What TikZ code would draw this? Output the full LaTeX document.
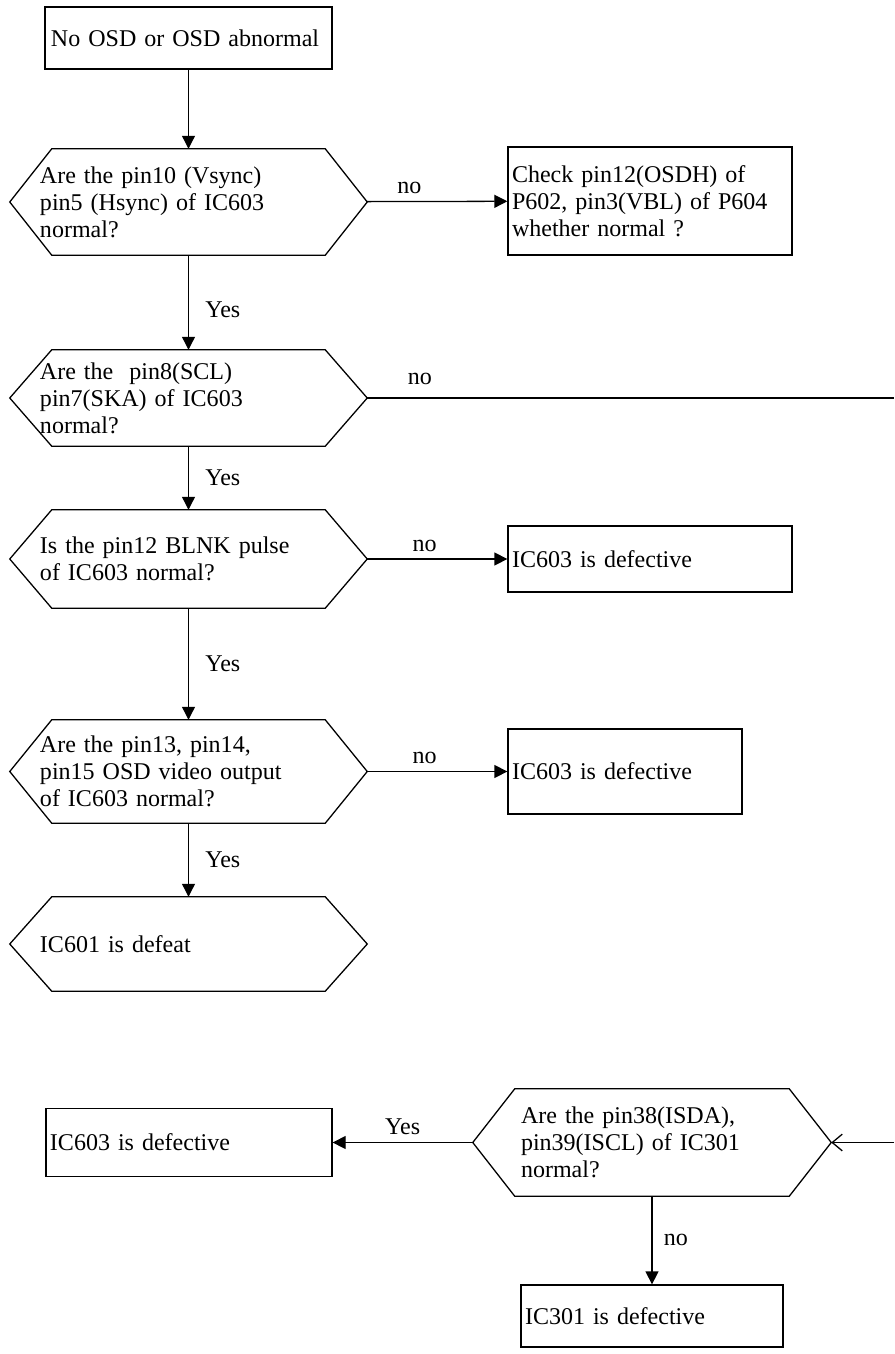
\documentclass[tikz,border=0pt]{standalone}
\usepackage{fontspec}
\setmainfont{Liberation Serif}
\usetikzlibrary{arrows.meta}

\begin{document}
\begin{tikzpicture}[
  x=0.03cm, y=-0.03cm,
  every node/.style={font=\fontsize{20.5}{23}\selectfont},
  box/.style={draw,line width=1.1pt,align=left,inner sep=0pt},
  ques/.style={align=left,inner sep=0pt,minimum width=10.71cm,text width=8.91cm},
  arr/.style={-{Triangle[length=3.9mm,width=3.9mm]},line width=1.1pt},
  lbl/.style={inner sep=1pt}
]
\useasboundingbox (0,0) rectangle (894,1354);
% main column
\node[box,minimum width=8.61cm,minimum height=1.86cm,text width=8.25cm] (start) at (188.5,38) {No OSD or OSD abnormal};
\node[ques,minimum height=3.18cm] (q1) at (188.5,202) {Are the pin10 (Vsync)\\pin5 (Hsync) of IC603\\normal?};
\node[ques,minimum height=2.88cm] (q2) at (188.5,398) {Are the~ pin8(SCL)\\pin7(SKA) of IC603\\normal?};
\node[ques,minimum height=2.94cm] (q3) at (188.5,559) {Is the pin12 BLNK pulse\\of IC603 normal?};
\node[ques,minimum height=3.09cm] (q4) at (188.5,771.5) {Are the pin13, pin14,\\pin15 OSD video output\\of IC603 normal?};
\node[ques,minimum height=2.82cm] (q5) at (188.5,944) {IC601 is defeat};
% right side results
\node[box,minimum width=8.52cm,minimum height=3.24cm,text width=8.28cm] (chk) at (650,201) {Check pin12(OSDH) of\\P602, pin3(VBL) of P604\\whether normal ?};
\node[box,minimum width=8.52cm,minimum height=1.98cm,text width=8.28cm] (def1) at (650,559) {IC603 is defective};
\node[box,minimum width=7.02cm,minimum height=2.55cm,text width=6.78cm] (def2) at (625,771.5) {IC603 is defective};
% lower part
\node[ques,minimum width=10.74cm,minimum height=3.21cm,text width=7.86cm] (q6) at (652,1142.5) {Are the pin38(ISDA),\\pin39(ISCL) of IC301\\normal?};
\node[box,minimum width=8.58cm,minimum height=2.04cm,text width=8.34cm] (def3) at (189,1142.5) {IC603 is defective};
\node[box,minimum width=7.86cm,minimum height=1.86cm,text width=7.62cm] (def4) at (652,1316) {IC301 is defective};
\coordinate (rtop) at (894,398);
\coordinate (rbot) at (894,1142.5);
% hexagon outlines
\foreach \q in {q1,q2,q3,q4,q5,q6}
  \draw[line width=1.1pt] (\q.west) -- ([xshift=1.26cm]\q.north west) -- ([xshift=-1.26cm]\q.north east)
    -- (\q.east) -- ([xshift=-1.26cm]\q.south east) -- ([xshift=1.26cm]\q.south west) -- cycle;
% connectors
\draw[arr] (start) -- (q1);
\draw[arr] (q1) -- node[lbl,right=0.45cm,pos=0.58]{Yes} (q2);
\draw[arr] (q2) -- node[lbl,right=0.45cm]{Yes} (q3);
\draw[arr] (q3) -- node[lbl,right=0.45cm]{Yes} (q4);
\draw[arr] (q4) -- node[lbl,right=0.45cm]{Yes} (q5);
\draw[arr] (q1) -- node[lbl,above=5pt,pos=0.3]{no} (chk);
\draw[line width=1.1pt] (q2) -- node[lbl,above=10pt,pos=0.1]{no} (rtop);
\draw[arr] (q3) -- node[lbl,above=5pt,pos=0.41]{no} (def1);
\draw[arr] (q4) -- node[lbl,above=5pt,pos=0.41]{no} (def2);
\draw[-{Straight Barb[length=3mm,width=5mm]},line width=1.1pt] (rbot) -- (q6);
\draw[arr] (q6) -- node[lbl,above=5pt]{Yes} (def3);
\draw[arr] (q6) -- node[lbl,right=0.3cm]{no} (def4);
\end{tikzpicture}
\end{document}
